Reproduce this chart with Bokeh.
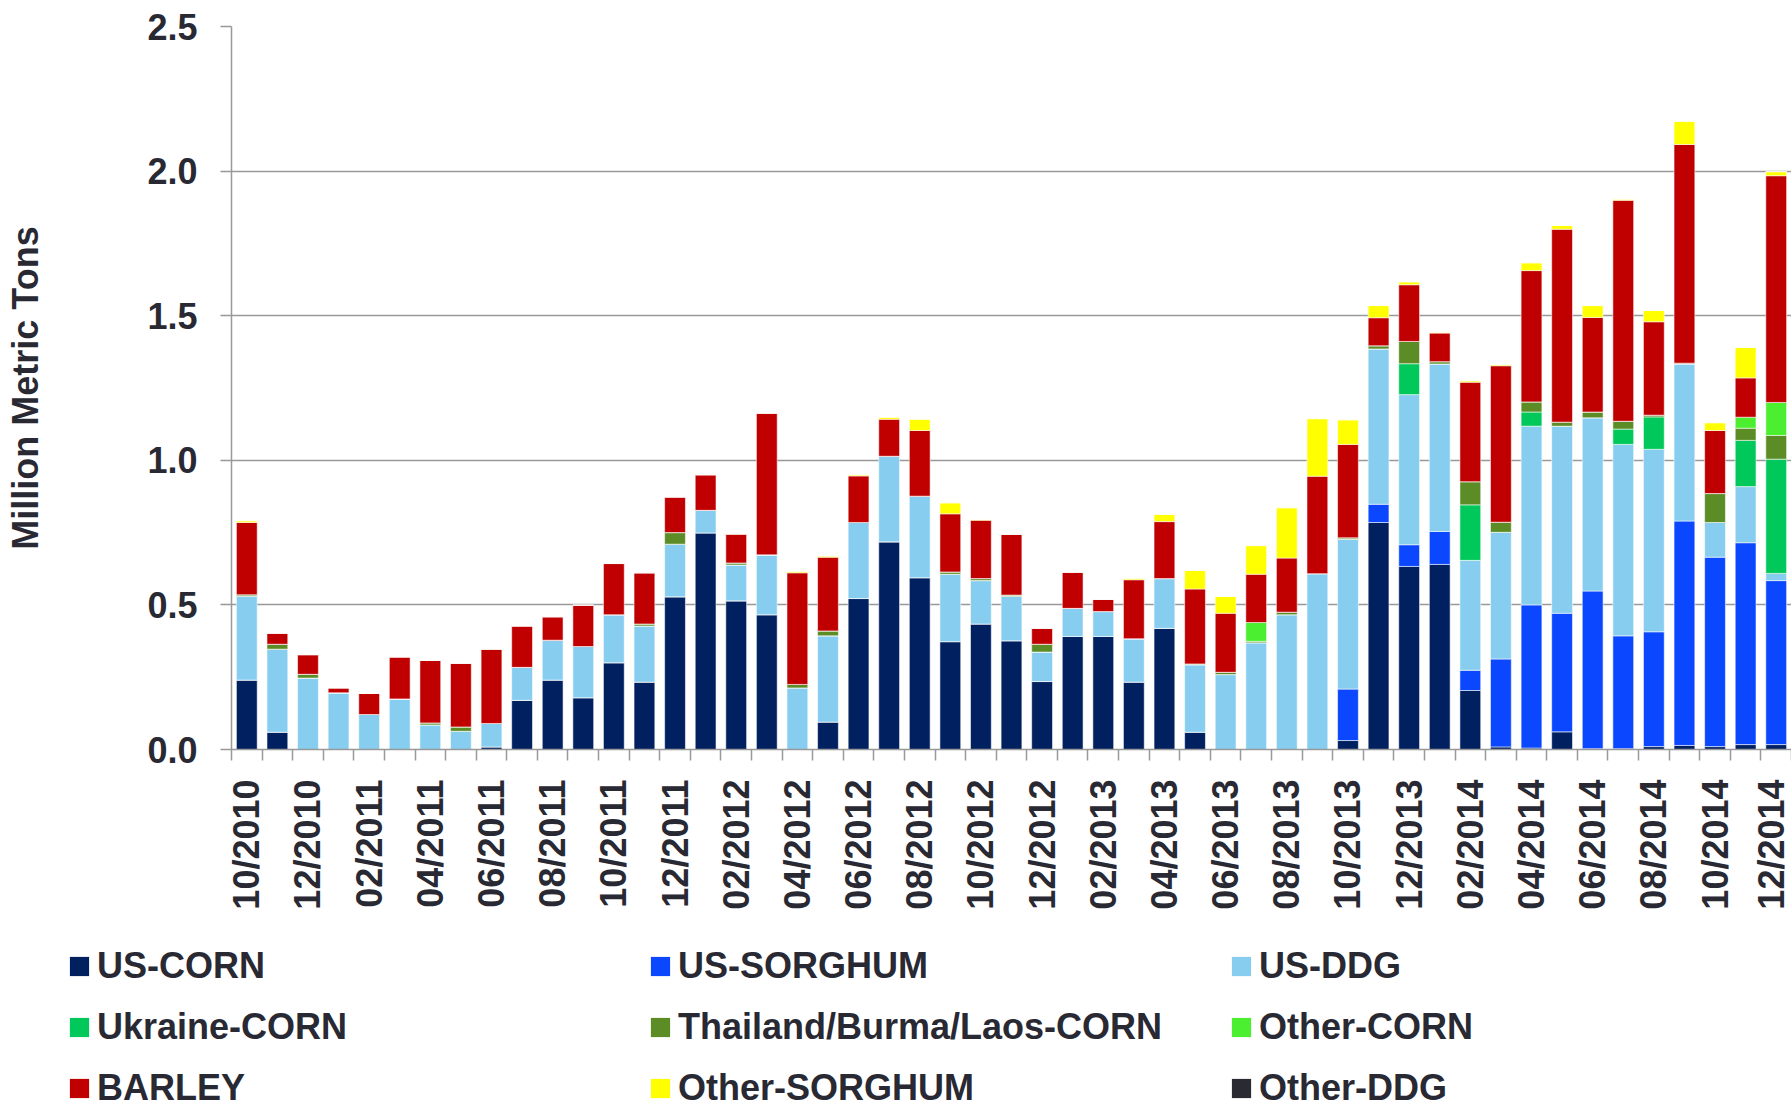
import math
from bokeh.plotting import figure
from bokeh.models import (Range1d, FixedTicker, NumeralTickFormatter, Legend,
                          LegendItem, ColumnDataSource)
from bokeh.embed import file_html
from bokeh.resources import INLINE

months = ["10/2010", "11/2010", "12/2010",
          "01/2011", "02/2011", "03/2011", "04/2011", "05/2011", "06/2011",
          "07/2011", "08/2011", "09/2011", "10/2011", "11/2011", "12/2011",
          "01/2012", "02/2012", "03/2012", "04/2012", "05/2012", "06/2012",
          "07/2012", "08/2012", "09/2012", "10/2012", "11/2012", "12/2012",
          "01/2013", "02/2013", "03/2013", "04/2013", "05/2013", "06/2013",
          "07/2013", "08/2013", "09/2013", "10/2013", "11/2013", "12/2013",
          "01/2014", "02/2014", "03/2014", "04/2014", "05/2014", "06/2014",
          "07/2014", "08/2014", "09/2014", "10/2014", "11/2014", "12/2014"]

us_corn = [0.240, 0.060, 0, 0, 0, 0, 0, 0, 0.009, 0.170,
           0.240, 0.179, 0.300, 0.233, 0.528, 0.749, 0.514, 0.466, 0, 0.095,
           0.522, 0.718, 0.594, 0.373, 0.434, 0.376, 0.235, 0.391, 0.391, 0.233,
           0.419, 0.060, 0, 0, 0, 0, 0.031, 0.785, 0.633, 0.640,
           0.204, 0.009, 0.005, 0.061, 0.003, 0.003, 0.010, 0.014, 0.010, 0.017,
           0.017]
us_sorghum = [0, 0, 0, 0, 0, 0, 0, 0, 0, 0,
              0, 0, 0, 0, 0, 0, 0, 0, 0, 0,
              0, 0, 0, 0, 0, 0, 0, 0, 0, 0,
              0, 0, 0, 0, 0, 0, 0.178, 0.063, 0.075, 0.114,
              0.070, 0.304, 0.495, 0.410, 0.545, 0.390, 0.397, 0.776, 0.655, 0.698,
              0.567]
us_ddg = [0.290, 0.287, 0.247, 0.196, 0.121, 0.175, 0.085, 0.063, 0.081, 0.114,
          0.138, 0.177, 0.166, 0.194, 0.182, 0.078, 0.124, 0.207, 0.213, 0.298,
          0.263, 0.296, 0.282, 0.233, 0.150, 0.153, 0.102, 0.097, 0.086, 0.150,
          0.172, 0.233, 0.259, 0.369, 0.466, 0.608, 0.518, 0.537, 0.519, 0.579,
          0.380, 0.438, 0.618, 0.647, 0.599, 0.662, 0.631, 0.543, 0.120, 0.194,
          0.025]
ukraine_corn = [0, 0, 0, 0, 0, 0, 0, 0, 0, 0,
                0, 0, 0, 0, 0, 0, 0, 0, 0, 0,
                0, 0, 0, 0, 0, 0, 0, 0, 0, 0,
                0, 0, 0, 0, 0, 0, 0, 0, 0.107, 0,
                0.192, 0, 0.049, 0, 0, 0.053, 0.112, 0, 0, 0.160,
                0.395]
thai_corn = [0.005, 0.017, 0.013, 0, 0, 0, 0.007, 0.015, 0, 0,
             0, 0, 0, 0.007, 0.040, 0, 0.007, 0, 0.012, 0.017,
             0, 0, 0, 0.008, 0.007, 0.005, 0.027, 0, 0, 0,
             0, 0.003, 0.008, 0.005, 0.009, 0, 0.005, 0.011, 0.077, 0.008,
             0.080, 0.035, 0.035, 0.014, 0.020, 0.027, 0.006, 0.003, 0.100, 0.042,
             0.082]
other_corn = [0, 0, 0, 0, 0, 0, 0, 0, 0, 0,
              0, 0, 0, 0, 0, 0, 0, 0, 0, 0,
              0, 0, 0, 0, 0, 0, 0, 0, 0, 0,
              0, 0, 0, 0.065, 0, 0, 0, 0, 0, 0,
              0, 0, 0, 0, 0, 0, 0, 0, 0, 0.038,
              0.114]
barley = [0.250, 0.038, 0.068, 0.017, 0.073, 0.145, 0.216, 0.220, 0.257, 0.143,
          0.081, 0.143, 0.177, 0.177, 0.123, 0.123, 0.100, 0.490, 0.386, 0.255,
          0.161, 0.128, 0.227, 0.201, 0.202, 0.210, 0.055, 0.125, 0.042, 0.204,
          0.197, 0.259, 0.204, 0.167, 0.187, 0.337, 0.323, 0.097, 0.196, 0.099,
          0.344, 0.541, 0.454, 0.667, 0.327, 0.764, 0.323, 0.756, 0.218, 0.136,
          0.784]
other_sorghum = [0.006, 0, 0, 0, 0, 0, 0, 0, 0, 0,
                 0, 0, 0, 0, 0, 0, 0, 0, 0.005, 0.004,
                 0.004, 0.007, 0.039, 0.038, 0.002, 0, 0, 0, 0, 0.005,
                 0.025, 0.064, 0.058, 0.099, 0.174, 0.199, 0.085, 0.042, 0.010, 0.003,
                 0.005, 0.004, 0.027, 0.013, 0.041, 0.004, 0.039, 0.080, 0.027, 0.105,
                 0.014]
other_ddg = [0, 0, 0, 0, 0, 0, 0, 0, 0, 0,
             0, 0, 0, 0, 0, 0, 0, 0, 0, 0,
             0, 0, 0, 0, 0, 0, 0, 0, 0, 0,
             0, 0, 0, 0, 0, 0, 0, 0, 0, 0,
             0, 0, 0, 0, 0, 0, 0, 0, 0, 0,
             0]

series_names = ["US-CORN", "US-SORGHUM", "US-DDG", "Ukraine-CORN",
                "Thailand/Burma/Laos-CORN", "Other-CORN", "BARLEY",
                "Other-SORGHUM", "Other-DDG"]
series_values = [us_corn, us_sorghum, us_ddg, ukraine_corn, thai_corn,
                 other_corn, barley, other_sorghum, other_ddg]
colors = ["#002060", "#0A47FF", "#86CDEF", "#00C85A", "#5B8C26",
          "#4CEF30", "#C00000", "#FFFF00", "#2A2A33"]
y_ticks = [0, 0.5, 1.0, 1.5, 2.0, 2.5]

TEXT = "#292934"
FONT = "Liberation Sans"
GRID = "#999999"

W = 1791
H1 = 930
H2 = 180

xs = list(range(1, len(months) + 1))
data = {"x": xs}
keys = []
for i, vals in enumerate(series_values):
    k = "s%d" % i
    keys.append(k)
    data[k] = vals
source = ColumnDataSource(data)

p = figure(width=W, height=H1, output_backend="svg", toolbar_location=None,
           x_range=Range1d(0.5, len(months) + 0.5), y_range=Range1d(0, 2.5),
           min_border_left=231, min_border_right=0, min_border_top=26,
           min_border_bottom=H1 - 749)
p.outline_line_color = None
p.background_fill_color = "white"

p.vbar_stack(keys, x="x", width=0.68, source=source,
             fill_color=colors, line_color="white",
             line_width=1, line_alpha=0.55)

# x axis
xa = p.xaxis[0]
xa.ticker = FixedTicker(ticks=xs[::2], minor_ticks=[x - 0.5 for x in xs] + [len(xs) + 0.5])
xa.major_label_overrides = {x: months[x - 1] for x in xs[::2]}
xa.major_label_orientation = math.pi / 2
xa.major_tick_out = 11
xa.major_tick_in = 0
xa.major_tick_line_color = None
xa.minor_tick_out = 11
xa.minor_tick_in = 0
xa.minor_tick_line_color = GRID
xa.minor_tick_line_width = 1.5
xa.axis_line_color = GRID
xa.axis_line_width = 1.5
xa.major_label_standoff = 19
xa.major_label_text_font = FONT
xa.major_label_text_font_style = "bold"
xa.major_label_text_font_size = "36px"
xa.major_label_text_color = TEXT

# y axis
ya = p.yaxis[0]
ya.ticker = FixedTicker(ticks=y_ticks)
ya.formatter = NumeralTickFormatter(format="0.0")
ya.major_tick_out = 11
ya.major_tick_in = 0
ya.major_tick_line_color = GRID
ya.major_tick_line_width = 1.5
ya.minor_tick_line_color = None
ya.axis_line_color = GRID
ya.axis_line_width = 1.5
ya.major_label_standoff = 23
ya.major_label_text_font = FONT
ya.major_label_text_font_style = "bold"
ya.major_label_text_font_size = "36px"
ya.major_label_text_color = TEXT
ya.axis_label = "Million Metric Tons"
ya.axis_label_text_font = FONT
ya.axis_label_text_font_style = "bold"
ya.axis_label_text_font_size = "36px"
ya.axis_label_text_color = TEXT
ya.axis_label_standoff = 98

p.xgrid.grid_line_color = None
p.ygrid.ticker = FixedTicker(ticks=y_ticks)
p.ygrid.grid_line_color = GRID
p.ygrid.grid_line_width = 1.5

# legend panel (a separate root below the chart)
lp = figure(width=W, height=H2, output_backend="svg", toolbar_location=None,
            x_range=Range1d(0, 1), y_range=Range1d(0, 1),
            min_border=0, x_axis_location=None, y_axis_location=None)
lp.grid.visible = False
lp.outline_line_color = None

swatches = []
for c in colors:
    swatches.append(lp.vbar(x=[-5], top=[0], width=0.01, fill_color=c, line_color=None))

col_x = [67, 648, 1229]
for c in range(3):
    items = []
    for r in range(3):
        idx = r * 3 + c
        items.append(LegendItem(label=series_names[idx], renderers=[swatches[idx]]))
    leg = Legend(items=items, location=(col_x[c], 1), orientation="vertical",
                 glyph_width=24, glyph_height=24, label_height=36,
                 label_standoff=6, spacing=19, padding=0, margin=0,
                 border_line_color=None, background_fill_alpha=0,
                 label_text_font=FONT, label_text_font_style="bold",
                 label_text_font_size="36px", label_text_color=TEXT)
    lp.add_layout(leg)

open("out.html", "w").write(file_html([p, lp], INLINE))
